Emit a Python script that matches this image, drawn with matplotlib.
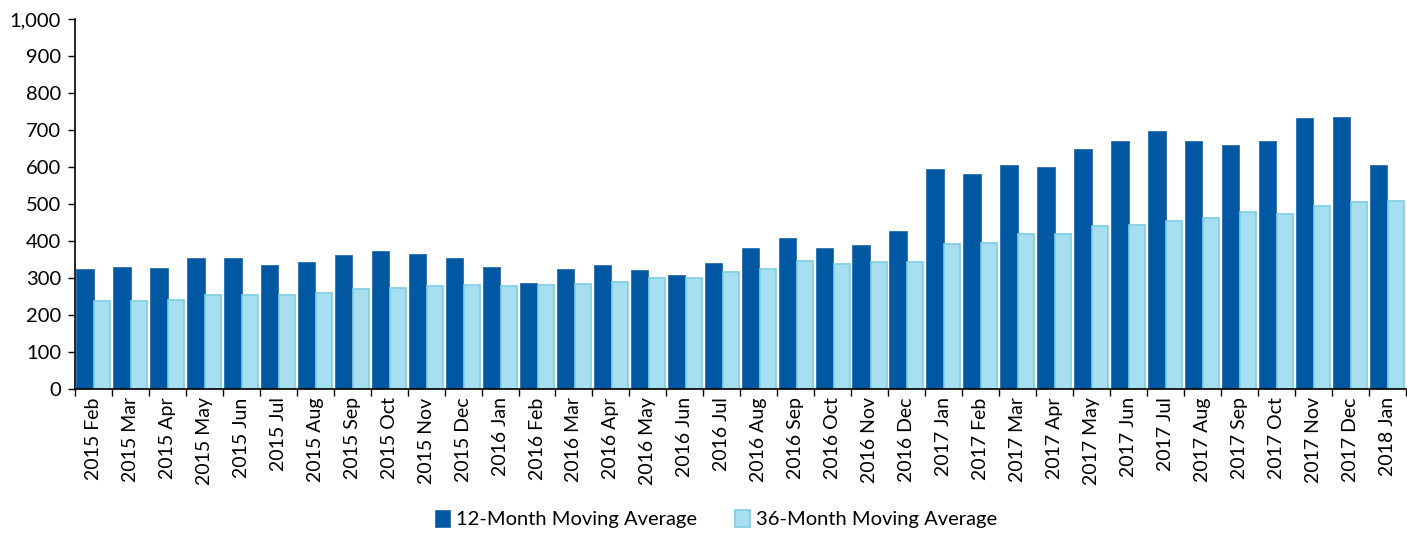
import matplotlib.pyplot as plt
import numpy as np
from matplotlib.ticker import FuncFormatter

months = ['2015 Feb', '2015 Mar', '2015 Apr', '2015 May', '2015 Jun', '2015 Jul',
          '2015 Aug', '2015 Sep', '2015 Oct', '2015 Nov', '2015 Dec', '2016 Jan',
          '2016 Feb', '2016 Mar', '2016 Apr', '2016 May', '2016 Jun', '2016 Jul',
          '2016 Aug', '2016 Sep', '2016 Oct', '2016 Nov', '2016 Dec', '2017 Jan',
          '2017 Feb', '2017 Mar', '2017 Apr', '2017 May', '2017 Jun', '2017 Jul',
          '2017 Aug', '2017 Sep', '2017 Oct', '2017 Nov', '2017 Dec', '2018 Jan']
avg_12 = [323, 330, 328, 355, 353, 334, 342, 362, 373, 364, 354, 331,
          286, 325, 335, 322, 309, 340, 382, 408, 382, 389, 428, 594,
          580, 604, 600, 648, 671, 696, 669, 660, 669, 732, 734, 604]
avg_36 = [238, 239, 240, 253, 253, 255, 260, 271, 274, 279, 280, 278,
          282, 284, 290, 300, 300, 315, 324, 345, 338, 342, 342, 393,
          395, 418, 420, 440, 443, 455, 462, 477, 473, 494, 504, 509]

plt.rcParams['font.family'] = ['Lato', 'DejaVu Sans']

fig = plt.figure(figsize=(14.07, 5.33), dpi=100)
ax = fig.add_axes([0.0533, 0.2702, 0.9457, 0.6942])

x = np.arange(len(months))
w = 0.47
ax.bar(x - w / 2 + 0.005, avg_12, width=w, color='#0058a3', edgecolor='#2a6fae',
       linewidth=0.6, label='12-Month Moving Average')
ax.bar(x + w / 2 + 0.005, avg_36, width=w * 0.92, color='#a8dff0', edgecolor='#7ccde6',
       linewidth=1.2, label='36-Month Moving Average')

ax.set_xlim(-0.5, len(months) - 0.5)
ax.set_ylim(0, 1000)
ax.set_yticks(range(0, 1001, 100))
ax.yaxis.set_major_formatter(FuncFormatter(lambda v, p: f'{int(v):,}'))

ax.set_xticks(np.arange(-0.5, len(months), 1.0))
ax.set_xticklabels([])
ax.set_xticks(x, minor=True)
ax.set_xticklabels(months, minor=True, rotation=90, fontsize=14)
ax.tick_params(axis='x', which='major', direction='out', length=5, width=1)
ax.tick_params(axis='x', which='minor', length=0, pad=6)
ax.tick_params(axis='y', direction='out', length=5, width=1, labelsize=14.5, pad=5)

for s in ['top', 'right']:
    ax.spines[s].set_visible(False)
for s in ['left', 'bottom']:
    ax.spines[s].set_linewidth(1.2)

fig.legend(loc='lower center', bbox_to_anchor=(0.509, -0.025), ncol=2, frameon=False,
           fontsize=14.5, handlelength=0.75, handleheight=0.95, handletextpad=0.3,
           columnspacing=1.9)

fig.savefig('out.png', dpi=100)
